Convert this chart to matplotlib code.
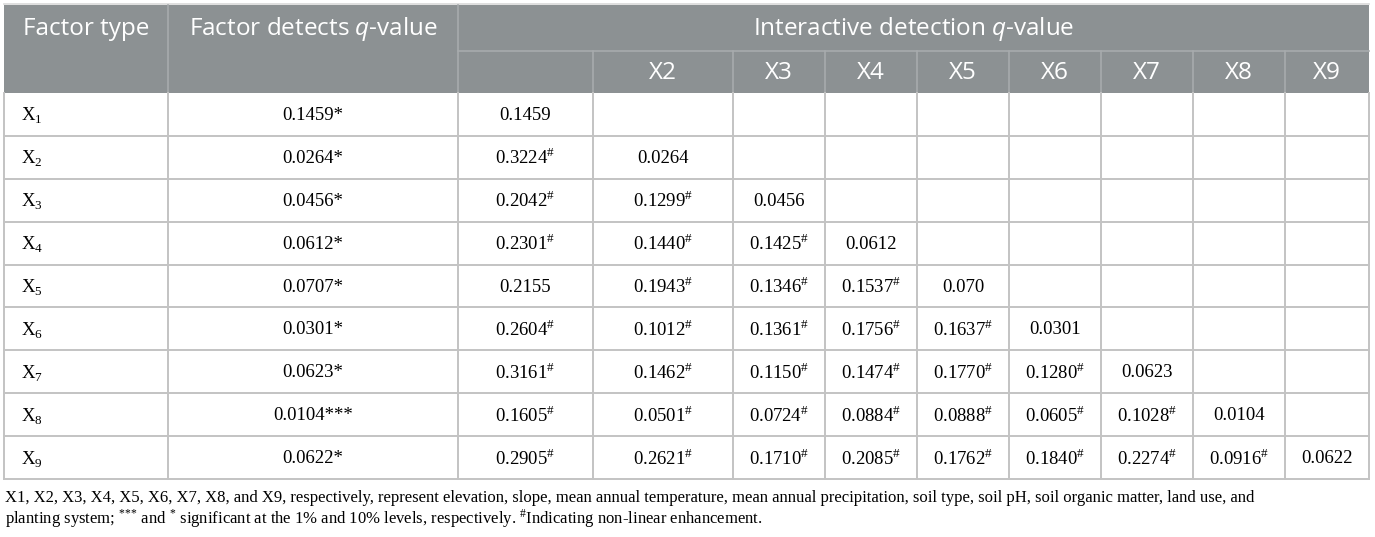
import matplotlib
matplotlib.use("Agg")
from matplotlib import pyplot as plt
from matplotlib.patches import Rectangle

plt.rcParams['mathtext.fontset'] = 'custom'
plt.rcParams['mathtext.rm'] = 'Liberation Serif'
plt.rcParams['mathtext.it'] = 'Open Sans:italic'

factors = ['1', '2', '3', '4', '5', '6', '7', '8', '9']
factor_q = ['0.1459*', '0.0264*', '0.0456*', '0.0612*', '0.0707*',
            '0.0301*', '0.0623*', '0.0104***', '0.0622*']
inter_cols = ['', 'X2', 'X3', 'X4', 'X5', 'X6', 'X7', 'X8', 'X9']
# lower triangle, "#" = non-linear enhancement
inter_q = [
    ['0.1459'],
    ['0.3224#', '0.0264'],
    ['0.2042#', '0.1299#', '0.0456'],
    ['0.2301#', '0.1440#', '0.1425#', '0.0612'],
    ['0.2155', '0.1943#', '0.1346#', '0.1537#', '0.070'],
    ['0.2604#', '0.1012#', '0.1361#', '0.1756#', '0.1637#', '0.0301'],
    ['0.3161#', '0.1462#', '0.1150#', '0.1474#', '0.1770#', '0.1280#', '0.0623'],
    ['0.1605#', '0.0501#', '0.0724#', '0.0884#', '0.0888#', '0.0605#', '0.1028#', '0.0104'],
    ['0.2905#', '0.2621#', '0.1710#', '0.2085#', '0.1762#', '0.1840#', '0.2274#', '0.0916#', '0.0622'],
]
footnote1 = ("X1, X2, X3, X4, X5, X6, X7, X8, and X9, respectively, represent elevation, "
             "slope, mean annual temperature, mean annual precipitation, soil type, soil pH, "
             "soil organic matter, land use, and")
footnote2 = (r"planting system; $^{{*}{*}{*}}$ and $^{*}$ significant at the 1% and 10% levels, "
             r"respectively. $^{\#}$Indicating non-linear enhancement.")

W, H = 1375, 537
fig = plt.figure(figsize=(W / 100, H / 100), dpi=100)
ax = fig.add_axes([0, 0, 1, 1])
ax.set_xlim(0, W)
ax.set_ylim(H, 0)
ax.axis('off')

col_x = [4, 168, 458, 593, 733, 825, 917, 1009, 1101, 1193, 1285, 1369]
top, mid, hbot = 5, 51, 93
row_h = (479 - hbot) / 9
head_bg = '#8c9193'
head_line = '#a7abad'
grid = '#c3c3c3'
serif = 'Liberation Serif'
sans = 'Open Sans'
hsize = 17.5

# header
ax.add_patch(Rectangle((col_x[0], top), col_x[-1] - col_x[0], hbot - top,
                       facecolor=head_bg, edgecolor='none'))
ax.plot([col_x[0], col_x[-1]], [top - 1, top - 1], color='#d9d9d9', lw=1.2)
ax.plot([col_x[2], col_x[-1]], [mid, mid], color=head_line, lw=1.2)
for x in col_x[1:3]:
    ax.plot([x, x], [top, hbot], color=head_line, lw=1.2)
for x in col_x[3:-1]:
    ax.plot([x, x], [mid, hbot], color=head_line, lw=1.2)

hy = (top + mid) / 2 + 1
ax.text((col_x[0] + col_x[1]) / 2, hy, 'Factor type', color='white', fontsize=hsize,
        family=sans, ha='center', va='center')
ax.text((col_x[1] + col_x[2]) / 2, hy, r'Factor detects $\mathit{q}$-value', color='white',
        fontsize=hsize, family=sans, ha='center', va='center')
ax.text((col_x[2] + col_x[-1]) / 2, hy, r'Interactive detection $\mathit{q}$-value',
        color='white', fontsize=hsize, family=sans, ha='center', va='center')
for j, lab in enumerate(inter_cols):
    ax.text((col_x[j + 2] + col_x[j + 3]) / 2, (mid + hbot) / 2 + 1, lab, color='white',
            fontsize=hsize, family=sans, ha='center', va='center')

# body grid
bot = hbot + 9 * row_h
for i in range(1, 10):
    y = hbot + i * row_h
    ax.plot([col_x[0], col_x[-1]], [y, y], color=grid, lw=1.4)
for x in col_x:
    ax.plot([x, x], [hbot, bot], color=grid, lw=1.4)


def fmt(s):
    if s.endswith('#'):
        return s[:-1] + r'$^{\#}$'
    return s


for i in range(9):
    yc = hbot + (i + 0.5) * row_h + 1
    ax.text(col_x[0] + 17, yc, 'X$_\\mathrm{' + factors[i] + '}$', fontsize=13.5,
            family=serif, ha='left', va='center')
    ax.text((col_x[1] + col_x[2]) / 2, yc, factor_q[i], fontsize=13.5,
            family=serif, ha='center', va='center')
    for j, v in enumerate(inter_q[i]):
        ax.text((col_x[j + 2] + col_x[j + 3]) / 2, yc, fmt(v), fontsize=13.5,
                family=serif, ha='center', va='center')

ax.text(5, 498, footnote1, fontsize=12.0, family=serif, ha='left', va='center')
ax.text(5, 519, footnote2, fontsize=12.0, family=serif, ha='left', va='center')

fig.savefig('out.png', dpi=100)
